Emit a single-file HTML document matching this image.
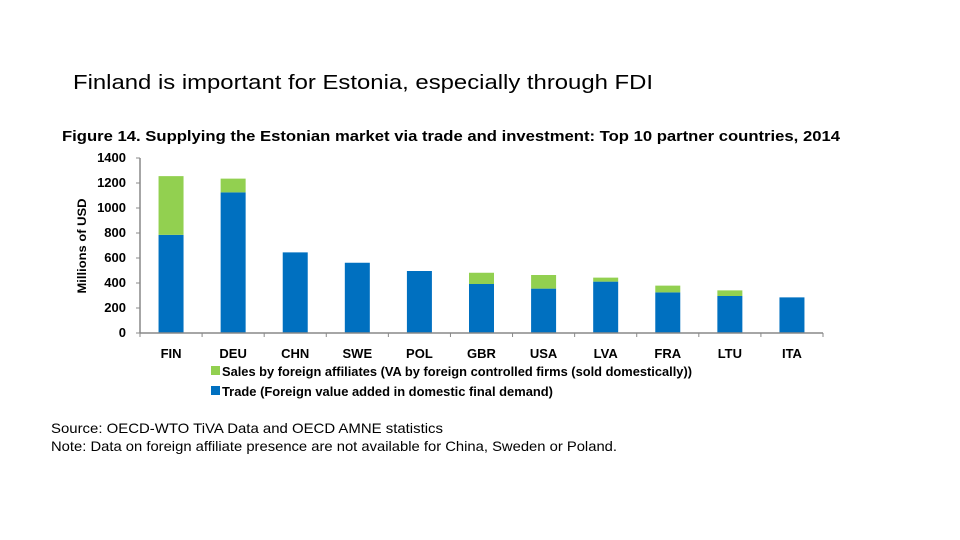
<!DOCTYPE html>
<html><head><meta charset="utf-8"><style>
body{margin:0;background:#fff;width:960px;height:540px;overflow:hidden;position:relative;font-family:"Liberation Sans",Arial,sans-serif}
</style></head><body>
<svg width="960" height="540" style="position:absolute;left:0;top:0" id="chart">
<text x="73" y="89" font-size="20" textLength="580" lengthAdjust="spacingAndGlyphs" font-family="Liberation Sans">Finland is important for Estonia, especially through FDI</text>
<text x="62" y="141" font-size="15" font-weight="bold" textLength="778" lengthAdjust="spacingAndGlyphs" fill="#000" font-family="Liberation Sans">Figure 14. Supplying the Estonian market via trade and investment: Top 10 partner countries, 2014</text>
<g id="plot"></g>
<text transform="translate(86,246) rotate(-90)" text-anchor="middle" font-size="12" font-weight="bold" textLength="95" lengthAdjust="spacingAndGlyphs" font-family="Liberation Sans">Millions of USD</text>
<rect x="211" y="366" width="9" height="9" fill="#92d050"/>
<text x="222" y="376" font-size="13" font-weight="bold" textLength="470" lengthAdjust="spacingAndGlyphs" font-family="Liberation Sans">Sales by foreign affiliates (VA by foreign controlled firms (sold domestically))</text>
<rect x="211" y="386" width="9" height="9" fill="#0070c0"/>
<text x="222" y="396" font-size="13" font-weight="bold" textLength="331" lengthAdjust="spacingAndGlyphs" font-family="Liberation Sans">Trade (Foreign value added in domestic final demand)</text>
<text x="51" y="433" font-size="14" textLength="392" lengthAdjust="spacingAndGlyphs" font-family="Liberation Sans">Source: OECD-WTO TiVA Data and OECD AMNE statistics</text>
<text x="51" y="451" font-size="14" textLength="566" lengthAdjust="spacingAndGlyphs" font-family="Liberation Sans">Note: Data on foreign affiliate presence are not available for China, Sweden or Poland.</text>
</svg>
<script>
const categories=["FIN","DEU","CHN","SWE","POL","GBR","USA","LVA","FRA","LTU","ITA"];
const tradeValues=[785,1125,645,562,496,392,355,411,325,296,285];
const salesValues=[470,110,0,0,0,90,109,32,54,45,0];
const yTicks=[0,200,400,600,800,1000,1200,1400];
const NS="http://www.w3.org/2000/svg";
const g=document.getElementById('plot');
const x0=140,x1=823,yBase=333,yTop=158,yMax=1400;
const band=(x1-x0)/categories.length,bw=25;
const y=v=>yBase-(v/yMax)*(yBase-yTop);
const xc=i=>x0+band*(i+0.5);
function el(tag,a){const e=document.createElementNS(NS,tag);for(const k in a)e.setAttribute(k,a[k]);g.appendChild(e);return e;}
yTicks.forEach(v=>{
 const t=el('text',{x:126,y:y(v)+4,'text-anchor':'end','font-size':13,'font-weight':'bold','font-family':'Liberation Sans'});
 t.textContent=v;
 
 
 const tk=el('line',{x1:x0-4,x2:x0,y1:y(v),y2:y(v),stroke:'#888'});
 
 
});
categories.forEach((c,i)=>{
 const b=el('rect',{x:xc(i)-bw/2,y:y(tradeValues[i]),width:bw,height:yBase-y(tradeValues[i]),fill:'#0070c0'});
 
 
 if(salesValues[i]>0){
  const s=el('rect',{x:xc(i)-bw/2,y:y(tradeValues[i]+salesValues[i]),width:bw,height:y(tradeValues[i])-y(tradeValues[i]+salesValues[i]),fill:'#92d050'});
  
  
 }
 const t=el('text',{x:xc(i),y:358,'text-anchor':'middle','font-size':13,'font-weight':'bold','font-family':'Liberation Sans'});
 t.textContent=c;
 
 
});
for(let i=0;i<=categories.length;i++){
 const tk=el('line',{x1:x0+band*i,x2:x0+band*i,y1:yBase,y2:yBase+4,stroke:'#888'});
 
 
}
const ya=el('line',{x1:x0,x2:x0,y1:yTop,y2:yBase,stroke:'#888','stroke-width':1.5});


const xa=el('line',{x1:x0,x2:x1,y1:yBase,y2:yBase,stroke:'#888','stroke-width':1.5});


</script>
</body></html>
